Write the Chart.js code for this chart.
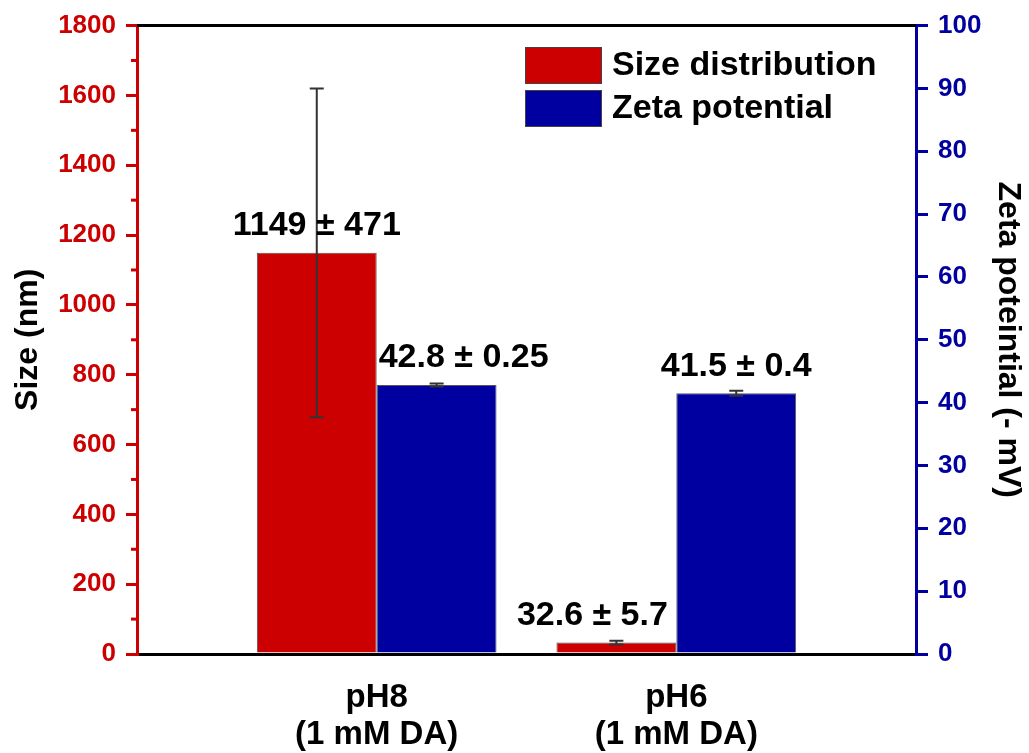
<!DOCTYPE html>
<html>
<head>
<meta charset="utf-8">
<script src="https://cdn.jsdelivr.net/npm/chart.js@4"></script>
<style>
body { margin: 0; background: #fff; }
canvas { display: block; }
</style>
</head>
<body>
<canvas id="myChart" width="1029" height="753"></canvas>
<script>
// data
const xPos = [1, 2];
const xLabels = [['pH8', '(1 mM DA)'], ['pH6', '(1 mM DA)']];
const sizeVals = [1149, 32.6];
const sizeErr = [471, 5.7];
const zetaVals = [42.8, 41.5];
const zetaErr = [0.25, 0.4];
const seriesNames = ['Size distribution', 'Zeta potential'];

const RED = '#CC0000';
const BLUE = '#0000A0';
const FONT = '"Liberation Sans", Arial, sans-serif';
Chart.defaults.font.family = FONT;

// label shifts (px) so text sits where the figure puts it
const labelShift = [[0, -24], [27, 0]];

const extras = {
  id: 'extras',
  afterDatasetsDraw(chart) {
    const ctx = chart.ctx;
    const errs = [sizeErr, zetaErr];
    const vals = [sizeVals, zetaVals];
    ctx.save();
    // error bars
    for (let d = 0; d < 2; d++) {
      const meta = chart.getDatasetMeta(d);
      const ys = chart.scales[meta.yAxisID];
      meta.data.forEach((bar, i) => {
        const top = ys.getPixelForValue(vals[d][i] + errs[d][i]);
        const bot = ys.getPixelForValue(vals[d][i] - errs[d][i]);
        ctx.strokeStyle = '#333';
        ctx.lineWidth = 2;
        ctx.beginPath();
        ctx.moveTo(bar.x, top); ctx.lineTo(bar.x, bot);
        ctx.moveTo(bar.x - 7, top); ctx.lineTo(bar.x + 7, top);
        ctx.moveTo(bar.x - 7, bot); ctx.lineTo(bar.x + 7, bot);
        ctx.stroke();
      });
    }
    // value labels
    ctx.fillStyle = '#000';
    ctx.font = 'bold 34px ' + FONT;
    ctx.textAlign = 'center';
    ctx.textBaseline = 'middle';
    for (let d = 0; d < 2; d++) {
      const meta = chart.getDatasetMeta(d);
      meta.data.forEach((bar, i) => {
        const txt = vals[d][i] + ' \u00B1 ' + errs[d][i];
        ctx.fillText(txt, bar.x + labelShift[d][i], bar.y - 27);
      });
    }
    ctx.restore();
  },
  afterDraw(chart) {
    const ctx = chart.ctx;
    const a = chart.chartArea;
    const y = chart.scales.y;
    ctx.save();
    // top frame line
    ctx.strokeStyle = '#000';
    ctx.lineWidth = 3;
    ctx.beginPath();
    ctx.moveTo(a.left, a.top); ctx.lineTo(a.right, a.top);
    ctx.stroke();
    // minor ticks on the size axis
    ctx.strokeStyle = RED;
    ctx.lineWidth = 3;
    for (let v = 100; v < 1800; v += 200) {
      const p = y.getPixelForValue(v);
      ctx.beginPath();
      ctx.moveTo(a.left - 6, p); ctx.lineTo(a.left, p);
      ctx.stroke();
    }
    // legend
    const cols = [RED, BLUE];
    ctx.font = 'bold 34px ' + FONT;
    ctx.textAlign = 'left';
    ctx.textBaseline = 'middle';
    seriesNames.forEach((name, i) => {
      const by = 47 + i * 43;
      ctx.fillStyle = cols[i];
      ctx.fillRect(525, by, 77, 37);
      ctx.strokeStyle = '#444';
      ctx.lineWidth = 1;
      ctx.strokeRect(525.5, by + 0.5, 76, 36);
      ctx.fillStyle = '#000';
      ctx.fillText(name, 612, by + 19);
    });
    ctx.restore();
  }
};

const ctx = document.getElementById('myChart');
new Chart(ctx, {
  type: 'bar',
  data: {
    datasets: [{
      label: seriesNames[0],
      data: xPos.map((x, i) => ({ x: x, y: sizeVals[i] })),
      yAxisID: 'y',
      backgroundColor: RED,
      borderColor: '#555',
      borderWidth: 1,
      categoryPercentage: 0.8,
      barPercentage: 1.0
    }, {
      label: seriesNames[1],
      data: xPos.map((x, i) => ({ x: x, y: zetaVals[i] })),
      yAxisID: 'y2',
      backgroundColor: BLUE,
      borderColor: '#555',
      borderWidth: 1,
      categoryPercentage: 0.8,
      barPercentage: 1.0
    }]
  },
  options: {
    responsive: false,
    animation: false,
    layout: { padding: { top: 25, left: 0, right: 0, bottom: 0 } },
    plugins: {
      legend: { display: false },
      tooltip: { enabled: false }
    },
    scales: {
      x: {
        type: 'linear',
        min: 0.2,
        max: 2.8,
        offset: false,
        grid: { display: false },
        border: { display: true, color: '#000', width: 3 },
        afterBuildTicks: s => { s.ticks = xPos.map(v => ({ value: v })); },
        afterFit: s => { s.height = 99; },
        ticks: {
          autoSkip: false,
          maxRotation: 0,
          minRotation: 0,
          padding: 17,
          color: '#000',
          font: { size: 33, weight: 'bold', lineHeight: 1.13 },
          callback: (v, i) => xLabels[i]
        }
      },
      y: {
        position: 'left',
        min: 0,
        max: 1800,
        afterFit: s => { s.width = 137; },
        ticks: { stepSize: 200, color: RED, padding: 10, font: { size: 26, weight: 'bold' }, callback: v => String(v) },
        grid: { drawOnChartArea: false, color: RED, lineWidth: 3, tickLength: 11 },
        border: { color: RED, width: 3 },
        title: { display: true, text: 'Size (nm)', color: '#000', font: { size: 32, weight: 'bold' }, padding: { top: 9, bottom: 0 } }
      },
      y2: {
        position: 'right',
        min: 0,
        max: 100,
        afterFit: s => { s.width = 113; },
        ticks: { stepSize: 10, color: BLUE, padding: 10, font: { size: 26, weight: 'bold' }, callback: v => String(v) },
        grid: { drawOnChartArea: false, color: BLUE, lineWidth: 3, tickLength: 12 },
        border: { color: BLUE, width: 3 },
        title: { display: true, text: 'Zeta poteintial (- mV)', color: '#000', font: { size: 32, weight: 'bold' }, padding: { top: 2, bottom: 0 } }
      }
    }
  },
  plugins: [extras]
});
</script>
</body>
</html>
